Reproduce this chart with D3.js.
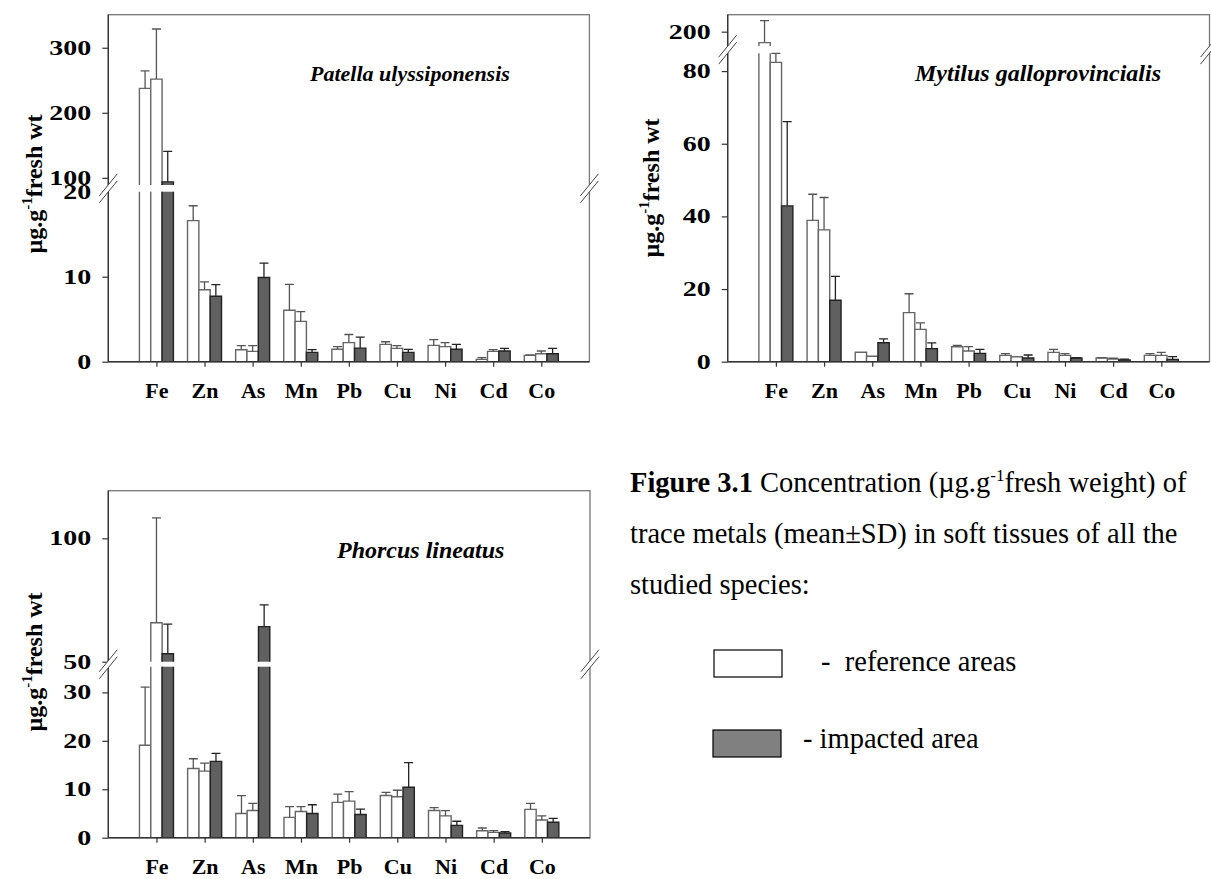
<!DOCTYPE html>
<html>
<head>
<meta charset="utf-8">
<script src="https://cdn.jsdelivr.net/npm/d3@7"></script>
<style>
  body { margin: 0; background: #fff; }
  svg { display: block; }
  text { font-family: "Liberation Serif", "Times New Roman", serif; }
</style>
</head>
<body>
<svg id="fig" width="1211" height="879"></svg>
<script>
"use strict";

// ---- data (means and SD, ug/g fresh wt) ----
var metals = ["Fe", "Zn", "As", "Mn", "Pb", "Cu", "Ni", "Cd", "Co"];

var patellaRefA     = [237.5, 16.6, 1.41, 6.05, 1.46, 2.04, 1.92, 0.27, 0.75];
var patellaRefASd   = [27,    1.75, 0.47, 3.05, 0.31, 0.31, 0.68, 0.2,  0.05];
var patellaRefB     = [251.8, 8.47, 1.22, 4.75, 2.24, 1.57, 1.77, 1.22, 0.94];
var patellaRefBSd   = [77,    0.93, 0.66, 1.15, 0.96, 0.33, 0.47, 0.19, 0.32];
var patellaImp      = [93.8,  7.7,  9.9,  1.1,  1.6,  1.1,  1.46, 1.26, 0.94];
var patellaImpSd    = [47,    1.36, 1.7,  0.31, 1.3,  0.36, 0.58, 0.31, 0.63];

var mytilusRefA     = [188.5, 38.9, 2.6,  13.5, 4.13, 1.75, 2.58, 1.0,  1.75];
var mytilusRefASd   = [23,    7.2,  0,    5.2,  0.37, 0.45, 0.82, 0.1,  0.45];
var mytilusRefB     = [82.4,  36.3, 1.5,  8.9,  2.94, 1.38, 1.75, 0.73, 1.75];
var mytilusRefBSd   = [2.5,   8.9,  0,    1.8,  1.19, 0,    0.45, 0.22, 0.83];
var mytilusImp      = [42.9,  16.9, 5.2,  3.6,  2.3,  1.0,  1.0,  0.46, 0.64];
var mytilusImpSd    = [23.2,  6.6,  1.1,  1.6,  1.1,  0.84, 0.1,  0.27, 0.74];

var phorcusRefA     = [19.1,  14.3, 5.0,  4.2,  7.3,  8.7,  5.6,  1.45, 5.85];
var phorcusRefASd   = [12.0,  2.0,  3.7,  2.2,  1.7,  0.65, 0.6,  0.55, 1.25];
var phorcusRefB     = [65.8,  13.75, 5.6, 5.4,  7.55, 8.45, 4.5,  1.1,  3.65];
var phorcusRefBSd   = [42.5,  1.65, 1.5,  1.0,  1.95, 1.35, 1.1,  0.35, 0.85];
var phorcusImp      = [53.2,  15.75, 64.2, 5.0, 4.8,  10.4, 2.55, 0.97, 3.2];
var phorcusImpSd    = [12.0,  1.65, 8.8,  1.8,  1.1,  5.1,  0.85, 0.28, 0.8];

// broken axis ticks
var patellaLowTicks = [0, 10, 20],  patellaHighTicks = [100, 200, 300];
var mytilusLowTicks = [0, 20, 40, 60, 80], mytilusHighTicks = [200];
var phorcusLowTicks = [0, 10, 20, 30], phorcusHighTicks = [50, 100];

var seriesFill = ["#ffffff", "#ffffff", "#606060"];
var seriesStroke = ["#666666", "#666666", "#222222"];

var svg = d3.select("#fig");

var panels = [
  { title: "Patella ulyssiponensis", titleX: 310, titleY: 81, titleAnchor: "start", titleSize: 22,
    left: 108.3, right: 589.4, top: 14.7, bottom: 361.7,
    lowDomain: [0, 20], lowTop: 191.7, highDomain: [89, 350.8], highBottom: 185,
    lowTicks: patellaLowTicks, highTicks: patellaHighTicks,
    yTitleX: 42, yTitleY: 184,
    series: [[patellaRefA, patellaRefASd], [patellaRefB, patellaRefBSd], [patellaImp, patellaImpSd]] },
  { title: "Mytilus galloprovincialis", titleX: 1161, titleY: 81, titleAnchor: "end", titleSize: 24,
    left: 727.7, right: 1209.5, top: 14.7, bottom: 361.7,
    lowDomain: [0, 84.9], lowTop: 53.3, highDomain: [185, 217.8], highBottom: 46,
    lowTicks: mytilusLowTicks, highTicks: mytilusHighTicks,
    yTitleX: 659, yTitleY: 188,
    series: [[mytilusRefA, mytilusRefASd], [mytilusRefB, mytilusRefBSd], [mytilusImp, mytilusImpSd]] },
  { title: "Phorcus lineatus", titleX: 337, titleY: 558, titleAnchor: "start", titleSize: 24,
    left: 108.3, right: 590, top: 490.7, bottom: 837.7,
    lowDomain: [0, 35.3], lowTop: 666.7, highDomain: [50, 119.3], highBottom: 661.7,
    lowTicks: phorcusLowTicks, highTicks: phorcusHighTicks,
    yTitleX: 42, yTitleY: 662,
    series: [[phorcusRefA, phorcusRefASd], [phorcusRefB, phorcusRefBSd], [phorcusImp, phorcusImpSd]] }
];

panels.forEach(drawPanel);
drawCaption();

function drawPanel(p){
  var g = svg.append("g").attr("class", "panel");

  var x = d3.scalePoint().domain(metals).range([p.left, p.right]).padding(1);
  var sub = d3.scaleBand().domain([0, 1, 2]).range([-17, 17]);
  var yLo = d3.scaleLinear().domain(p.lowDomain).range([p.bottom, p.lowTop]);
  var yHi = d3.scaleLinear().domain(p.highDomain).range([p.highBottom, p.top]);

  function yOf(v){
    if(v <= p.lowDomain[1]) return yLo(v);
    if(v >= p.highDomain[0]) return yHi(v);
    return yLo(p.lowDomain[1]);
  }

  // frame
  g.append("rect")
    .attr("x", p.left).attr("y", p.top)
    .attr("width", p.right - p.left).attr("height", p.bottom - p.top)
    .attr("fill", "none").attr("stroke", "#777").attr("stroke-width", 1.3);

  // bars
  var records = [];
  p.series.forEach(function(s, si){
    metals.forEach(function(m, i){
      records.push({ metal: m, s: si, mean: s[0][i], sd: s[1][i] });
    });
  });

  var bar_selection = g.selectAll(".bar_node")
    .data(records)
    .join("g")
    .attr("class", "bar_node");

  bar_selection.each(function(d){
    var node = d3.select(this);
    var x0 = x(d.metal) + sub(d.s);
    var x1 = x0 + sub.bandwidth();
    var pieces = [];
    if(d.mean <= p.lowDomain[1]){
      pieces.push({ yb: yLo(0), yt: yLo(d.mean), top: true });
    } else {
      pieces.push({ yb: yLo(0), yt: yLo(p.lowDomain[1]), top: false });
      pieces.push({ yb: yHi(p.highDomain[0]), yt: yHi(d.mean), top: true });
    }
    pieces.forEach(function(pc){
      node.append("rect")
        .attr("x", x0).attr("y", pc.yt)
        .attr("width", x1 - x0).attr("height", pc.yb - pc.yt)
        .attr("fill", seriesFill[d.s]);
      var path = pc.top
        ? "M" + x0 + "," + pc.yb + " V" + pc.yt + " H" + x1 + " V" + pc.yb
        : "M" + x0 + "," + pc.yt + " V" + pc.yb + " M" + x1 + "," + pc.yt + " V" + pc.yb;
      node.append("path")
        .attr("d", path)
        .attr("fill", "none")
        .attr("stroke", seriesStroke[d.s])
        .attr("stroke-width", 1.4);
    });

    if(d.sd > 0){
      var cx = (x0 + x1) / 2;
      var yTop = yOf(d.mean + d.sd);
      node.append("path")
        .attr("d", "M" + cx + "," + yOf(d.mean) + " V" + yTop + " M" + (cx - 4.5) + "," + yTop + " H" + (cx + 4.5))
        .attr("fill", "none")
        .attr("stroke", d.s === 2 ? "#222" : "#555")
        .attr("stroke-width", 1.3);
    }
  });

  // axis lines
  g.append("line")
    .attr("x1", p.left).attr("x2", p.left)
    .attr("y1", p.top).attr("y2", p.bottom)
    .attr("stroke", "#333").attr("stroke-width", 1.3);
  g.append("line")
    .attr("x1", p.left).attr("x2", p.right)
    .attr("y1", p.bottom).attr("y2", p.bottom)
    .attr("stroke", "#333").attr("stroke-width", 1.6);

  // y axes, one per segment
  [[yLo, p.lowTicks], [yHi, p.highTicks]].forEach(function(a){
    var ax = g.append("g")
      .attr("transform", "translate(" + p.left + ",0)")
      .call(d3.axisLeft(a[0]).tickValues(a[1]).tickSize(6).tickFormat(d3.format("d")));
    ax.select(".domain").remove();
    ax.selectAll(".tick line").attr("stroke", "#333").attr("stroke-width", 1.2);
    ax.selectAll(".tick text")
      .attr("x", 0)
      .attr("transform", "translate(-17,0) scale(1.4,1)")
      .attr("font-family", "Liberation Serif")
      .attr("font-weight", "bold")
      .attr("font-size", 20)
      .attr("fill", "#000");
  });

  // x axis
  var xAx = g.append("g")
    .attr("transform", "translate(0," + p.bottom + ")")
    .call(d3.axisBottom(x).tickSize(5));
  xAx.select(".domain").remove();
  xAx.selectAll(".tick line").attr("stroke", "#333").attr("stroke-width", 1.2);
  xAx.selectAll(".tick text")
    .attr("y", 36).attr("dy", 0)
    .attr("font-family", "Liberation Serif")
    .attr("font-weight", "bold")
    .attr("font-size", 22)
    .attr("fill", "#000");

  // break marks on both vertical edges
  var yc = (p.highBottom + p.lowTop) / 2;
  [p.left, p.right].forEach(function(bx){
    var dx = 9, dy = 11, off = 3.5;
    g.append("path")
      .attr("d", "M" + (bx - dx) + "," + (yc + dy - off) + " L" + (bx + dx) + "," + (yc - dy - off) +
                 " L" + (bx + dx) + "," + (yc - dy + off) + " L" + (bx - dx) + "," + (yc + dy + off) + "Z")
      .attr("fill", "#fff");
    [-off, off].forEach(function(o){
      g.append("line")
        .attr("x1", bx - dx).attr("y1", yc + dy + o)
        .attr("x2", bx + dx).attr("y2", yc - dy + o)
        .attr("stroke", "#444").attr("stroke-width", 1);
    });
  });

  // species name
  g.append("text")
    .attr("x", p.titleX).attr("y", p.titleY)
    .attr("text-anchor", p.titleAnchor)
    .attr("font-weight", "bold")
    .attr("font-style", "italic")
    .attr("font-size", p.titleSize)
    .text(p.title);

  // y title
  var yt = g.append("text")
    .attr("transform", "translate(" + p.yTitleX + "," + p.yTitleY + ") rotate(-90)")
    .attr("text-anchor", "middle")
    .attr("font-weight", "bold")
    .attr("font-size", 24);
  yt.append("tspan").text("\u00b5g.g");
  yt.append("tspan").attr("dy", -10).attr("font-size", 15).text("-1");
  yt.append("tspan").attr("dy", 10).text("fresh wt");
}

function drawCaption(){
  var c = svg.append("g").attr("font-size", 28.5).attr("fill", "#000");
  var l1 = c.append("text").attr("x", 630).attr("y", 492);
  l1.append("tspan").attr("font-weight", "bold").text("Figure 3.1");
  l1.append("tspan").text(" Concentration (\u00b5g.g");
  l1.append("tspan").attr("dy", -11).attr("font-size", 17).text("-1");
  l1.append("tspan").attr("dy", 11).text("fresh weight) of");
  c.append("text").attr("x", 630).attr("y", 543).text("trace metals (mean\u00b1SD) in soft tissues of all the");
  c.append("text").attr("x", 630).attr("y", 594).text("studied species:");

  c.append("rect").attr("x", 714).attr("y", 650).attr("width", 68).attr("height", 27)
    .attr("fill", "#fff").attr("stroke", "#000").attr("stroke-width", 1.2);
  c.append("text").attr("x", 821).attr("y", 671).style("white-space", "pre").text("-  reference areas");

  c.append("rect").attr("x", 713).attr("y", 730).attr("width", 68).attr("height", 27)
    .attr("fill", "#808080").attr("stroke", "#000").attr("stroke-width", 1.2);
  c.append("text").attr("x", 803).attr("y", 748).text("- impacted area");
}
</script>
</body>
</html>
